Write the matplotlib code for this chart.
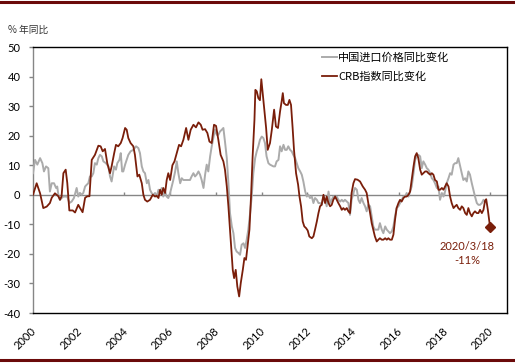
# LIBRARIES IMPORT

import numpy as np
import matplotlib
matplotlib.use('Agg')
import matplotlib.pyplot as plt
from matplotlib.transforms import ScaledTranslation

# DATA (years since 2000, % yoy)

crb_t = [0.00, 0.16, 0.31, 0.45, 0.60, 0.74, 0.82, 0.96, 1.11, 1.18, 1.25, 1.33, 1.43, 1.50, 1.59, 1.74,
         1.84, 1.98, 2.06, 2.17, 2.28, 2.38, 2.47, 2.57, 2.71, 2.86, 2.96, 3.05, 3.15, 3.25, 3.37, 3.44,
         3.55, 3.63, 3.73, 3.84, 3.92, 4.03, 4.10, 4.17, 4.27, 4.39, 4.46, 4.57, 4.65, 4.76, 4.83, 4.90,
         5.00, 5.12, 5.24, 5.34, 5.41, 5.49, 5.56, 5.63, 5.70, 5.78, 5.85, 5.92, 6.00, 6.10, 6.19, 6.29,
         6.39, 6.48, 6.58, 6.70, 6.80, 6.90, 7.02, 7.13, 7.24, 7.34, 7.42, 7.53, 7.63, 7.72, 7.82, 7.92,
         8.01, 8.11, 8.21, 8.33, 8.40, 8.48, 8.55, 8.62, 8.70, 8.74, 8.80, 8.87, 8.94, 9.02, 9.09, 9.18,
         9.25, 9.32, 9.40, 9.47, 9.54, 9.61, 9.69, 9.73, 9.79, 9.86, 9.93, 9.99, 10.05, 10.11, 10.20, 10.27,
         10.37, 10.45, 10.55, 10.63, 10.72, 10.81, 10.88, 10.93, 10.98, 11.07, 11.15, 11.22, 11.29, 11.36,
         11.42, 11.51, 11.60, 11.66, 11.73, 11.80, 11.87, 11.95, 12.02, 12.09, 12.20, 12.27, 12.34, 12.42,
         12.49, 12.56, 12.63, 12.71, 12.78, 12.85, 12.93, 13.00, 13.07, 13.14, 13.22, 13.29, 13.36, 13.44,
         13.51, 13.58, 13.65, 13.73, 13.80, 13.87, 13.94, 14.02, 14.09, 14.20, 14.31, 14.43, 14.53, 14.60,
         14.67, 14.75, 14.82, 14.89, 14.96, 15.04, 15.11, 15.18, 15.26, 15.33, 15.41, 15.48, 15.55, 15.62,
         15.70, 15.77, 15.84, 15.91, 15.99, 16.06, 16.13, 16.21, 16.28, 16.35, 16.43, 16.50, 16.57, 16.65,
         16.72, 16.79, 16.86, 16.94, 17.01, 17.08, 17.16, 17.23, 17.30, 17.38, 17.45, 17.52, 17.59, 17.67,
         17.74, 17.81, 17.89, 17.96, 18.03, 18.10, 18.18, 18.25, 18.32, 18.40, 18.47, 18.54, 18.61, 18.69,
         18.76, 18.83, 18.91, 18.98, 19.05, 19.12, 19.20, 19.27, 19.34, 19.42, 19.49, 19.56, 19.64, 19.71,
         19.78, 19.83, 19.90, 20.00]
crb_yoy = [0.0, 3.9, 0.5, -4.5, -4.0, -2.8, -1.0, 0.5, -0.5, -1.7, -0.5, 7.3, 8.5, 4.0, -5.3, -5.3,
           -6.0, -3.4, -4.5, -5.9, -1.0, -0.5, -0.5, 11.8, 13.5, 16.6, 16.4, 14.7, 15.5, 10.7, 7.3, 9.6,
           14.0, 16.9, 16.4, 17.5, 19.2, 22.6, 22.0, 19.2, 17.5, 16.4, 13.5, 6.2, 6.8, 3.9, 0.0, -1.7,
           -2.3, -1.7, 0.0, -0.6, -0.3, -1.1, 1.7, 0.0, 2.3, 0.6, 5.0, 7.3, 5.0, 10.0, 11.3, 14.1,
           16.9, 16.4, 18.6, 22.6, 18.6, 22.0, 23.7, 22.8, 24.5, 23.7, 22.0, 22.2, 20.9, 18.0, 17.5, 23.7,
           23.3, 18.6, 13.5, 11.3, 8.5, 2.8, -3.9, -11.8, -20.9, -25.4, -28.2, -25.4, -31.0, -34.4, -29.9, -25.4,
           -21.4, -22.0, -16.4, -11.8, -0.6, 13.0, 25.4, 35.5, 35.0, 32.7, 32.0, 39.1, 34.4, 29.9, 22.6, 15.2,
           17.5, 22.0, 28.8, 23.1, 22.6, 28.2, 31.6, 34.4, 31.0, 30.4, 30.4, 32.1, 30.4, 22.6,
           15.2, 7.3, 3.4, -0.6, -3.9, -9.0, -10.7, -11.3, -12.1, -14.1, -14.7, -14.1, -11.8, -9.0,
           -6.2, -3.9, -3.4, 0.0, -2.8, -0.6, -2.8, -3.9, -3.4, -1.7, -0.6, -1.7, -2.8, -3.9,
           -5.1, -4.5, -5.1, -4.5, -5.6, -6.2, 0.6, 3.9, 5.3, 5.1, 4.5, 2.8, 1.7, 0.6,
           -2.8, -6.2, -9.6, -11.8, -14.1, -15.8, -15.2, -14.7, -15.2, -15.2, -14.7, -15.2, -14.7, -15.2,
           -15.2, -13.5, -8.5, -4.5, -2.8, -1.7, -2.3, -1.1, -0.6, -0.6, 0.0, 1.1, 5.0, 9.6,
           13.0, 14.1, 12.4, 8.5, 6.8, 7.3, 7.9, 7.9, 7.3, 6.8, 7.3, 6.8, 5.0, 4.5,
           1.7, 1.7, 2.3, 1.7, 2.8, 3.9, 2.8, -0.6, -2.8, -4.5, -3.9, -3.4, -4.5, -5.1,
           -3.9, -4.5, -6.2, -6.8, -4.5, -6.2, -7.3, -6.2, -5.6, -6.2, -6.2, -5.1, -6.2, -5.1,
           -2.0, -1.5, -5.0, -11.0]

imp_t = [0.00, 0.09, 0.19, 0.31, 0.41, 0.48, 0.57, 0.67, 0.74, 0.82, 0.92, 1.01, 1.06, 1.12, 1.18, 1.25,
         1.33, 1.40, 1.50, 1.59, 1.69, 1.79, 1.91, 1.98, 2.06, 2.13, 2.20, 2.28, 2.35, 2.42, 2.49, 2.57,
         2.64, 2.71, 2.79, 2.86, 2.93, 3.01, 3.08, 3.19, 3.30, 3.37, 3.44, 3.55, 3.63, 3.69, 3.78, 3.84,
         3.90, 3.95, 4.03, 4.10, 4.17, 4.27, 4.39, 4.51, 4.61, 4.68, 4.76, 4.83, 4.90, 4.98, 5.05, 5.12,
         5.19, 5.27, 5.34, 5.41, 5.49, 5.56, 5.63, 5.70, 5.78, 5.85, 5.92, 6.00, 6.07, 6.14, 6.22, 6.29,
         6.36, 6.44, 6.51, 6.58, 6.72, 6.87, 6.94, 7.02, 7.09, 7.16, 7.24, 7.31, 7.38, 7.46, 7.53, 7.60,
         7.67, 7.75, 7.82, 7.89, 7.96, 8.04, 8.11, 8.18, 8.26, 8.33, 8.40, 8.48, 8.55, 8.62, 8.70, 8.77,
         8.84, 8.91, 8.99, 9.06, 9.13, 9.21, 9.28, 9.35, 9.42, 9.50, 9.57, 9.64, 9.72, 9.79, 9.86, 9.93,
         10.01, 10.08, 10.15, 10.22, 10.30, 10.37, 10.52, 10.59, 10.66, 10.74, 10.81, 10.88, 10.96, 11.03,
         11.10, 11.17, 11.25, 11.32, 11.39, 11.47, 11.54, 11.61, 11.69, 11.76, 11.83, 11.91, 11.98, 12.05,
         12.12, 12.20, 12.27, 12.34, 12.42, 12.49, 12.56, 12.63, 12.71, 12.78, 12.85, 12.93, 13.00, 13.07,
         13.14, 13.22, 13.29, 13.36, 13.44, 13.51, 13.58, 13.65, 13.73, 13.80, 13.87, 13.94, 14.02, 14.09,
         14.17, 14.24, 14.31, 14.38, 14.46, 14.53, 14.60, 14.67, 14.75, 14.82, 14.89, 14.96, 15.04, 15.11,
         15.18, 15.26, 15.33, 15.41, 15.48, 15.55, 15.62, 15.70, 15.77, 15.84, 15.91, 15.99, 16.06, 16.13,
         16.21, 16.28, 16.35, 16.43, 16.50, 16.57, 16.65, 16.72, 16.79, 16.86, 16.94, 17.01, 17.08, 17.16,
         17.23, 17.30, 17.38, 17.45, 17.52, 17.59, 17.67, 17.74, 17.81, 17.89, 17.96, 18.03, 18.10, 18.18,
         18.25, 18.32, 18.40, 18.47, 18.54, 18.61, 18.69, 18.76, 18.83, 18.91, 18.98, 19.05, 19.12, 19.20,
         19.27, 19.34, 19.42, 19.49, 19.56, 19.64, 19.71, 19.78]
imp_yoy = [7.3, 11.8, 10.2, 12.4, 10.7, 7.9, 9.6, 9.0, 1.1, 3.9, 3.9, 2.3, 2.8, -0.6, -1.7, -1.1,
           -0.6, -0.6, -0.6, -2.8, -2.3, -1.1, 2.3, -0.6, 0.6, 0.0, 0.6, 2.8, 3.4, 3.9, 6.2, 6.2,
           7.3, 10.7, 10.2, 12.4, 13.5, 13.0, 11.3, 10.7, 9.6, 6.2, 4.5, 9.6, 8.5, 10.7, 11.8, 14.1,
           7.9, 7.9, 10.2, 11.8, 13.5, 14.7, 15.2, 16.4, 15.8, 14.1, 9.6, 7.9, 7.3, 3.9, 5.0, 1.7,
           0.6, 0.0, 0.6, -0.6, 1.7, 0.6, 2.3, -0.6, 1.1, -0.6, -1.1, 0.6, 2.8, 5.0, 7.9, 11.3,
           7.3, 3.9, 5.6, 5.0, 5.0, 5.0, 6.2, 7.3, 6.2, 6.8, 7.9, 6.8, 5.0, 2.3, 6.8, 10.2,
           7.9, 13.0, 16.4, 19.2, 22.0, 20.3, 20.3, 21.4, 22.0, 22.6, 18.0, 12.4, 3.9, -6.2, -10.7, -13.0,
           -18.0, -19.2, -19.7, -20.3, -16.9, -16.4, -18.0, -15.2, -11.8, -6.2, -0.6, 7.3, 12.4, 14.7, 16.4, 18.6,
           19.7, 19.2, 17.5, 13.0, 10.7, 10.2, 9.6, 9.6, 11.3, 11.8, 16.4, 14.7, 16.9, 15.2,
           15.2, 16.4, 15.2, 14.7, 13.5, 12.4, 10.7, 9.0, 7.9, 6.8, 4.5, 1.1, -0.6, 0.0,
           -1.1, -0.6, -2.8, -1.1, -1.7, -2.8, -2.8, -3.4, -0.6, -1.7, -3.9, 1.1, -2.8, -1.7,
           -0.6, -1.1, -0.6, -1.7, -2.3, -1.7, -2.3, -1.7, -2.3, -2.8, -6.8, -1.7, 0.6, 2.3,
           1.7, -1.7, -2.8, -1.1, -2.8, -3.9, -5.6, -3.4, -3.9, -7.3, -10.7, -11.8, -11.8, -11.8,
           -9.6, -11.8, -13.0, -10.7, -11.8, -12.4, -13.0, -12.4, -10.7, -7.3, -4.5, -3.9, -2.8, -1.7,
           -0.6, -0.6, 0.6, -0.6, 1.1, 2.8, 7.3, 11.8, 13.0, 13.5, 13.0, 9.0, 11.3, 10.2,
           9.0, 8.5, 7.3, 5.6, 5.0, 3.9, 2.3, 2.8, -1.7, 0.6, -0.6, 1.1, 3.9, 5.6,
           7.3, 6.8, 10.2, 10.7, 10.7, 12.4, 9.6, 7.3, 5.0, 5.6, 4.5, 7.9, 6.8, 3.9,
           1.7, -0.6, -2.8, -3.4, -3.4, -2.8, -1.7, -2.3]

crb_year = 2000 + np.array(crb_t)
imp_year = 2000 + np.array(imp_t)

year_ticks = list(range(2000, 2021, 2))
y_ticks = list(range(-40, 51, 10))
last_label = '2020/3/18\n-11%'

# STYLE

red = '#7a1e0a'
grey = '#ababab'
cjk = ['Noto Sans CJK SC', 'DejaVu Sans']
num_font = 'Lato'

W, H = 515, 363
fig = plt.figure(figsize=(W / 100, H / 100), dpi=100)

def fx(px):
    return px / W

def fy(py):
    return 1 - py / H

# decorative maroon rules top and bottom
fig.add_artist(plt.Line2D([0, 1], [fy(2), fy(2)], color='#6b0a0a', lw=2.2))
fig.add_artist(plt.Line2D([0, 1], [fy(360), fy(360)], color='#6b0a0a', lw=2.2))

ax = fig.add_axes([fx(33), fy(313), fx(507) - fx(33), fy(47) - fy(313)])

# Plot series
ax.plot(imp_year, imp_yoy, color=grey, lw=1.4, label='中国进口价格同比变化', zorder=3)
ax.plot(crb_year, crb_yoy, color=red, lw=1.3, label='CRB指数同比变化', zorder=4)
ax.plot(crb_year[-1], crb_yoy[-1], marker='D', color=red, ms=5, zorder=5)

ax.set_xlim(2000, 2020.74)
ax.set_ylim(-40, 50)

# zero line with small year ticks
ax.axhline(0, color='#868686', lw=1.0, zorder=2)
ax.vlines(year_ticks, 0, 1.1, color='#868686', lw=1.0, zorder=2)

# spines
for s in ['top', 'right', 'bottom']:
    ax.spines[s].set_color('black')
    ax.spines[s].set_linewidth(1.0)
ax.spines['left'].set_color('#868686')
ax.spines['left'].set_linewidth(1.0)

ax.set_yticks(y_ticks)
ax.set_yticklabels([str(v) for v in y_ticks], fontsize=8, family=num_font)
ax.tick_params(axis='y', length=3, width=1, color='#868686', pad=6)

ax.set_xticks(year_ticks)
ax.set_xticklabels([str(v) for v in year_ticks], fontsize=8, family=num_font,
                   rotation=45, ha='right', va='center', rotation_mode='anchor')
ax.tick_params(axis='x', length=0, pad=12)
for lab in ax.get_xticklabels():
    lab.set_transform(lab.get_transform() + ScaledTranslation(1.5 / 100, 0, fig.dpi_scale_trans))

# annotation for last point
ax.text(2019.0, -15.8, last_label, color=red, fontsize=8, family=num_font,
        ha='center', va='top', linespacing=1.25)

# legend
leg = ax.legend(loc='upper left', bbox_to_anchor=((318 - 33) / 474, 0.995),
                frameon=False, prop={'family': cjk, 'size': 8}, handlelength=1.3,
                handletextpad=0.1, labelspacing=0.75, borderaxespad=0)

# axis title
fig.text(fx(8), fy(30), '% 年同比', fontsize=7, family=cjk, color='#333333', va='center', ha='left')

fig.savefig('out.png', dpi=100)
